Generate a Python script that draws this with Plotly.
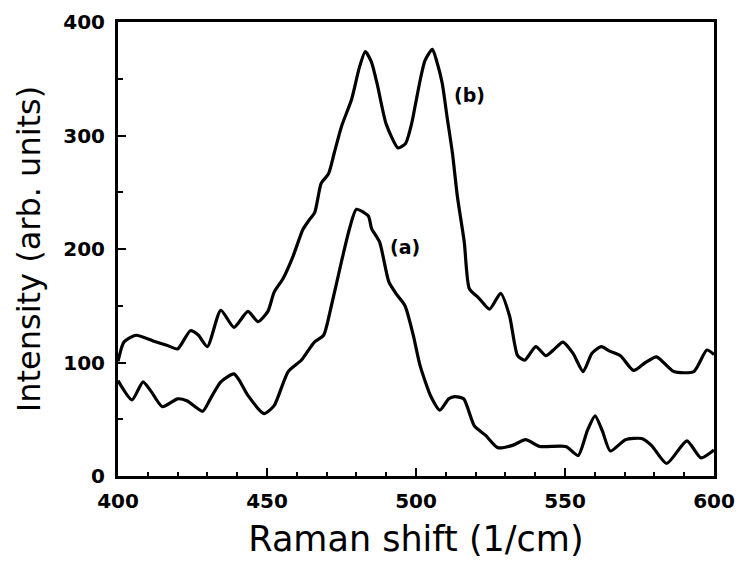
import plotly.graph_objects as go

# Curve (b)
b_x = [400, 402, 406, 411.8, 416.6, 420, 424.3, 427, 430, 434.5, 438.9, 443.6, 447, 450.3,
       452.4, 455.4, 458.8, 462, 464, 466, 468.2, 470.6, 472.6, 475, 478.4, 481, 483, 485,
       487, 490, 494, 496.5, 498.5, 500, 501.5, 503, 505.5, 507, 508.8, 510.5, 512.2,
       513.9, 516.2, 517.9, 521, 524.7, 528.4, 531.4, 534.1, 536.5, 540.2, 543.6, 546.5,
       549.3, 552.7, 556.1, 559, 562.2, 565, 568.6, 573, 577, 580.7, 586.5, 593.2, 597.6, 600]
b_y = [101, 118, 124, 119, 115, 112, 128, 124, 114, 146, 131, 145, 136, 145,
       162, 174, 194, 217, 225, 232, 258, 266, 285, 308, 332, 360, 374, 365,
       345, 310, 289, 293, 310, 330, 350, 366, 376, 365, 346, 315, 285,
       246, 206, 165, 157, 147, 161, 141, 106, 102, 114, 106, 112,
       118, 108, 92, 108, 114, 110, 106, 93, 100, 105, 92, 92, 111, 107]

# Curve (a)
a_x = [400, 404.7, 408.4, 411, 414.9, 420, 423.3, 428.4, 431, 434.5, 438.9, 441, 443.6,
       449, 452.4, 457.1, 461.5, 465.9, 469, 471.6, 475, 477.7, 480, 484, 485.1, 487.8,
       490.9, 493.5, 496.3, 499, 501.4, 505, 508, 511, 513, 516, 519.6, 523.3, 527.4,
       532.4, 536.8, 541.5, 550.3, 554.4, 557.5, 560.1, 562.5, 565.2, 570.3, 575.7,
       579, 584.1, 590.9, 595.6, 600]
a_y = [84, 67, 83, 75, 61, 68, 66, 57, 68, 83, 90, 83, 71,
       55, 62, 92, 102, 118, 124, 150, 189, 218, 235, 229, 218, 206,
       171, 160, 150, 125, 97, 70, 58, 68, 70, 68, 44, 36, 25,
       27, 32, 26, 26, 18, 40, 53, 40, 22, 32, 33,
       27, 11, 31, 16, 23]

x_ticks = [400, 450, 500, 550, 600]
y_ticks = [0, 100, 200, 300, 400]
labels = ["(a)", "(b)"]
label_x = [496.3, 518]
label_y = [202, 336]

fig = go.Figure()
for xs, ys in [(b_x, b_y), (a_x, a_y)]:
    fig.add_trace(go.Scatter(x=xs, y=ys, mode="lines",
                             line=dict(color="black", width=3.2, shape="spline", smoothing=0.6),
                             showlegend=False, hoverinfo="skip"))

for t, lx, ly in zip(labels, label_x, label_y):
    fig.add_annotation(x=lx, y=ly, text=t, showarrow=False,
                       font=dict(family="DejaVu Sans", size=19, color="black", weight="bold"))

tickfont = dict(family="DejaVu Sans", size=20, color="black", weight="bold")
fig.update_xaxes(range=[400, 600], tickvals=x_ticks, ticktext=[str(v) for v in x_ticks],
                 showgrid=False, zeroline=False, showline=True, linecolor="black", linewidth=3,
                 mirror=True, ticks="inside", ticklen=8, tickwidth=2, tickcolor="black",
                 minor=dict(dtick=10, ticks="inside", ticklen=4, tickwidth=1.5, tickcolor="black"),
                 tickfont=tickfont, ticklabelstandoff=5,
                 title=dict(text="Raman shift (1/cm)", standoff=15,
                            font=dict(family="DejaVu Sans", size=35, color="black")))
fig.update_yaxes(range=[0, 400], tickvals=y_ticks, ticktext=[str(v) for v in y_ticks],
                 showgrid=False, zeroline=False, showline=True, linecolor="black", linewidth=3,
                 mirror=True, ticks="inside", ticklen=8, tickwidth=2, tickcolor="black",
                 minor=dict(dtick=50, ticks="inside", ticklen=5, tickwidth=1.5, tickcolor="black"),
                 tickfont=tickfont, ticklabelstandoff=6,
                 title=dict(text="Intensity (arb. units)", standoff=14,
                            font=dict(family="DejaVu Sans", size=32, color="black")))

fig.update_layout(width=740, height=565, paper_bgcolor="white", plot_bgcolor="white",
                  margin=dict(l=118, r=26, t=22, b=89, autoexpand=False))

fig.write_html("out.html", config={"displayModeBar": False},
               post_script="document.body.style.margin='0';")
